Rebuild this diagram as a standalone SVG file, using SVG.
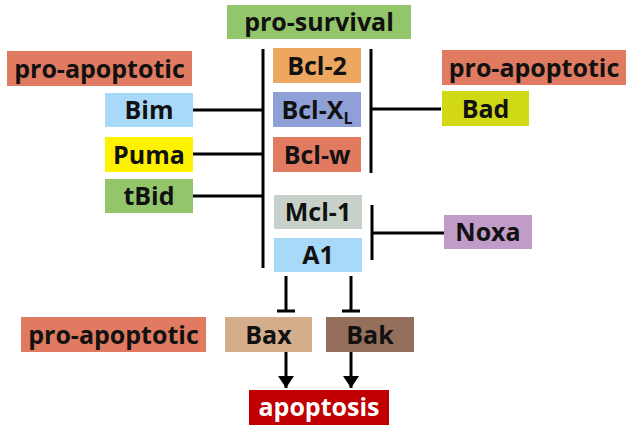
<svg xmlns="http://www.w3.org/2000/svg" width="630" height="430" viewBox="0 0 630 430">
<defs>
<style>
text{font-family:"Open Sans","Liberation Sans",sans-serif;font-weight:700;font-size:25px;text-anchor:middle;fill:#111}
.ln{stroke:#000;stroke-width:3;fill:none}
.w{fill:#fff}
</style>
<marker id="arr" viewBox="0 0 12 16" refX="12" refY="8" markerWidth="12" markerHeight="16" markerUnits="userSpaceOnUse" orient="auto">
<path d="M0,0 L12,8 L0,16 Z" fill="#000"/>
</marker>
</defs>
<rect width="630" height="430" fill="#fff"/>
<g id="connectors">
<line class="ln" x1="263" y1="49" x2="263" y2="268"/>
<line class="ln" x1="193" y1="110" x2="263" y2="110"/>
<line class="ln" x1="193" y1="154" x2="263" y2="154"/>
<line class="ln" x1="193" y1="196" x2="263" y2="196"/>
<line class="ln" x1="371" y1="49" x2="371" y2="173"/>
<line class="ln" x1="371" y1="109" x2="441" y2="109"/>
<line class="ln" x1="372" y1="205" x2="372" y2="260"/>
<line class="ln" x1="372" y1="233" x2="444" y2="233"/>
<line class="ln" x1="286" y1="276" x2="286" y2="311"/>
<line class="ln" x1="277" y1="311" x2="295" y2="311"/>
<line class="ln" x1="351" y1="276" x2="351" y2="311"/>
<line class="ln" x1="342" y1="311" x2="360" y2="311"/>
<line class="ln" x1="286" y1="352" x2="286" y2="388" marker-end="url(#arr)"/>
<line class="ln" x1="351" y1="352" x2="351" y2="388" marker-end="url(#arr)"/>
</g>
<g id="pro-survival"><rect x="227" y="5" width="184" height="34" fill="#93C66A"/><text x="319" y="31">pro-survival</text></g>
<g id="pro-apoptotic-left"><rect x="7" y="51" width="185" height="35" fill="#E07B61"/><text x="99.5" y="77.5">pro-apoptotic</text></g>
<g id="pro-apoptotic-right"><rect x="442" y="50" width="184" height="35" fill="#E07B61"/><text x="534" y="76.5">pro-apoptotic</text></g>
<g id="Bcl-2"><rect x="273" y="48" width="88" height="35" fill="#EEA760"/><text x="317" y="74.5">Bcl-2</text></g>
<g id="Bcl-XL"><rect x="273" y="92" width="88" height="35" fill="#8FA0D6"/><text x="317" y="118.5">Bcl-X<tspan font-size="16" dy="5">L</tspan></text></g>
<g id="Bcl-w"><rect x="273" y="137" width="88" height="35" fill="#E07B61"/><text x="317" y="163.5">Bcl-w</text></g>
<g id="Mcl-1"><rect x="274" y="195" width="88" height="34" fill="#C8D1C9"/><text x="318" y="221">Mcl-1</text></g>
<g id="A1"><rect x="274" y="238" width="88" height="34" fill="#A8D9F8"/><text x="318" y="264">A1</text></g>
<g id="Bim"><rect x="105" y="93" width="88" height="34" fill="#A8D9F8"/><text x="149" y="119">Bim</text></g>
<g id="Puma"><rect x="105" y="137" width="88" height="35" fill="#FFF200"/><text x="149" y="163.5">Puma</text></g>
<g id="tBid"><rect x="105" y="179" width="88" height="34" fill="#93C66A"/><text x="149" y="205">tBid</text></g>
<g id="Bad"><rect x="442" y="91" width="87" height="35" fill="#D1D816"/><text x="485.5" y="117.5">Bad</text></g>
<g id="Noxa"><rect x="444" y="215" width="88" height="34" fill="#C29CC8"/><text x="488" y="241">Noxa</text></g>
<g id="pro-apoptotic-bottom"><rect x="21" y="317" width="185" height="35" fill="#E07B61"/><text x="113.5" y="343.5">pro-apoptotic</text></g>
<g id="Bax"><rect x="225" y="317" width="87" height="35" fill="#D4AE8B"/><text x="268.5" y="343.5">Bax</text></g>
<g id="Bak"><rect x="326" y="317" width="88" height="35" fill="#946F5C"/><text x="370" y="343.5">Bak</text></g>
<g id="apoptosis"><rect x="249" y="390" width="140" height="35" fill="#C00000"/><text class="w" x="319" y="415.5">apoptosis</text></g>
</svg>
